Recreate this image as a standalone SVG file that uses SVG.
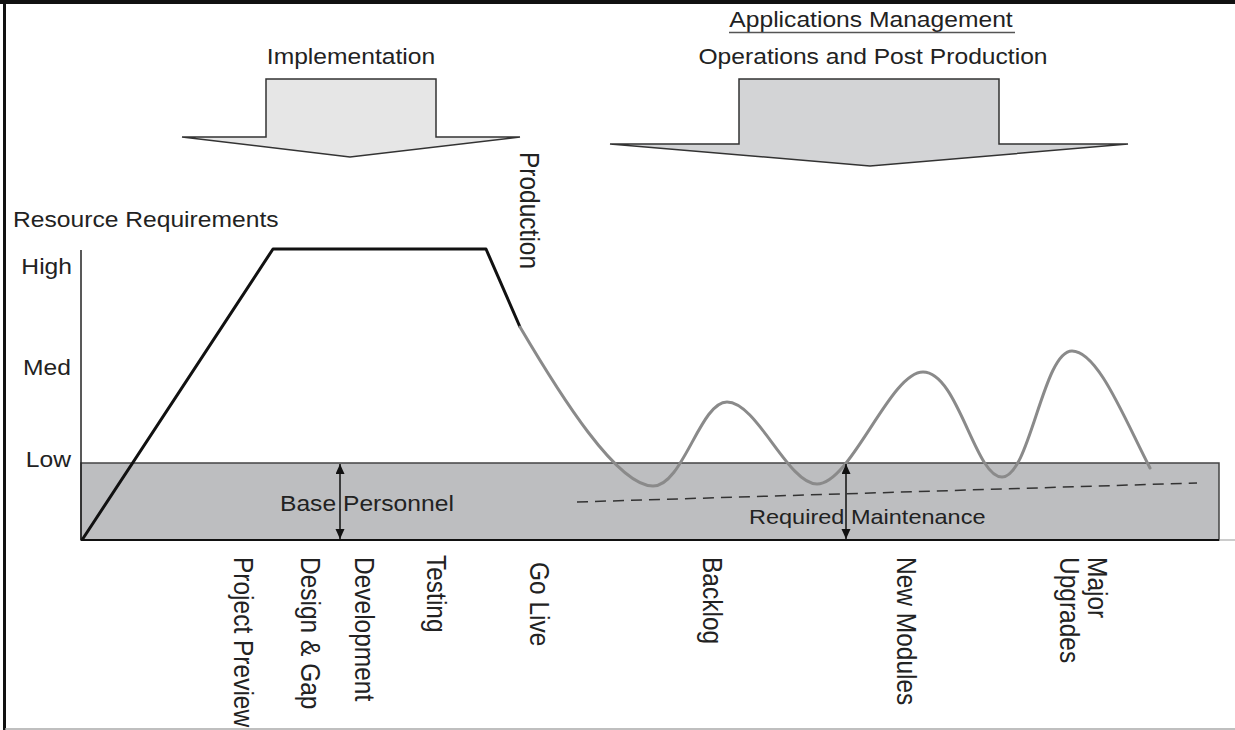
<svg xmlns="http://www.w3.org/2000/svg" width="1235" height="730" viewBox="0 0 1235 730">
<defs>
<style>
.t{font-family:"Liberation Sans",Arial,Helvetica,sans-serif;font-size:22px;fill:#222}
.r{font-family:"Liberation Sans",Arial,Helvetica,sans-serif;font-size:24.5px;fill:#222}
.bigarrow{stroke:#333;stroke-width:1.5;stroke-linejoin:miter}
.blk{fill:none;stroke:#111;stroke-width:3;stroke-linejoin:round}
.wave{fill:none;stroke:#8a8a8a;stroke-width:3;stroke-linecap:round}
.dim{stroke:#111;stroke-width:1.5;fill:none}
</style>
<marker id="ah" markerUnits="userSpaceOnUse" markerWidth="10" markerHeight="10" refX="10" refY="4.5" orient="auto-start-reverse">
<path d="M0,0 L10,4.5 L0,9 z" fill="#111"/>
</marker>
</defs>
<rect x="0" y="0" width="1235" height="730" fill="#fff"/>
<g id="frame">
<rect x="0" y="0" width="1235" height="4" fill="#111"/>
<rect x="3" y="0" width="3" height="730" fill="#111"/>
<line x1="5" y1="729" x2="1235" y2="729" stroke="#aaa" stroke-width="1.5"/>
</g>
<g id="implementation-arrow">
<path class="bigarrow" fill="#e6e6e6" d="M266,79 H436 V137 H520 L350,157 L182,137 H266 Z"/>
<text class="t" text-anchor="middle" transform="translate(351,64) scale(1.12,1)">Implementation</text>
</g>
<g id="operations-arrow">
<path class="bigarrow" fill="#d3d4d6" d="M739,79 H999 V144 H1128 L870,166 L610,144 H739 Z"/>
<text class="t" text-anchor="middle" transform="translate(871,27) scale(1.12,1)">Applications Management</text>
<line x1="729" y1="32.5" x2="1015" y2="32.5" stroke="#555" stroke-width="1.5"/>
<text class="t" text-anchor="middle" transform="translate(873,64) scale(1.12,1)">Operations and Post Production</text>
</g>
<g id="base-band">
<rect x="81" y="463" width="1138" height="77" fill="#bdbec0" stroke="#444" stroke-width="1.5"/>
</g>
<g id="axes">
<line x1="81" y1="250" x2="81" y2="540" stroke="#222" stroke-width="1.5"/>
<line x1="81" y1="540" x2="1219" y2="540" stroke="#111" stroke-width="2"/>
<line x1="1219" y1="540" x2="1235" y2="540" stroke="#999" stroke-width="1"/>
<text class="t" transform="translate(13,227) scale(1.12,1)">Resource Requirements</text>
<text class="t" text-anchor="end" transform="translate(72,274) scale(1.12,1)">High</text>
<text class="t" text-anchor="end" transform="translate(71,375) scale(1.12,1)">Med</text>
<text class="t" text-anchor="end" transform="translate(71,467) scale(1.12,1)">Low</text>
</g>
<g id="connectors">
<path id="implementation-curve" class="blk" d="M82,540 L273,249 L486,249 L520,327"/>
<path id="post-production-curve" class="wave" d="M520,327 C560,395 617,486 653,486 C683,486 700,402 727,402 C757,402 788,484 817,484 C851,484 890,372 923,372 C958,372 975,477 1002,477 C1030,477 1043,351 1072,351 C1098,351 1125,420 1150,468"/>
<line id="maintenance-trend" x1="577" y1="502" x2="1197" y2="483" stroke="#333" stroke-width="1.5" stroke-dasharray="11,7"/>
<line id="base-personnel-dim" class="dim" x1="340" y1="464" x2="340" y2="539" marker-start="url(#ah)" marker-end="url(#ah)"/>
<line id="required-maintenance-dim" class="dim" x1="846" y1="464" x2="846" y2="539" marker-start="url(#ah)" marker-end="url(#ah)"/>
</g>
<g id="base-personnel">
<text class="t" transform="translate(280,511) scale(1.12,1)">Base Personnel</text>
</g>
<g id="required-maintenance">
<text class="t" style="font-size:21px" transform="translate(749,524) scale(1.12,1)">Required Maintenance</text>
</g>
<g id="production-label">
<text class="r" transform="translate(520,152) scale(1.15,1) rotate(90)">Production</text>
</g>
<g id="milestones">
<text id="project-preview" class="r" transform="translate(234,557) scale(1.15,1) rotate(90)">Project Preview</text>
<text id="design-gap" class="r" transform="translate(301,557) scale(1.15,1) rotate(90)">Design &amp; Gap</text>
<text id="development" class="r" transform="translate(355,557) scale(1.15,1) rotate(90)">Development</text>
<text id="testing" class="r" transform="translate(427,555) scale(1.15,1) rotate(90)">Testing</text>
<text id="go-live" class="r" transform="translate(530,562) scale(1.15,1) rotate(90)">Go Live</text>
<text id="backlog" class="r" transform="translate(703,557) scale(1.15,1) rotate(90)">Backlog</text>
<text id="new-modules" class="r" transform="translate(897,557) scale(1.15,1) rotate(90)">New Modules</text>
<text id="major" class="r" transform="translate(1088,557) scale(1.15,1) rotate(90)">Major</text>
<text id="upgrades" class="r" transform="translate(1060,557) scale(1.15,1) rotate(90)">Upgrades</text>
</g>
</svg>
